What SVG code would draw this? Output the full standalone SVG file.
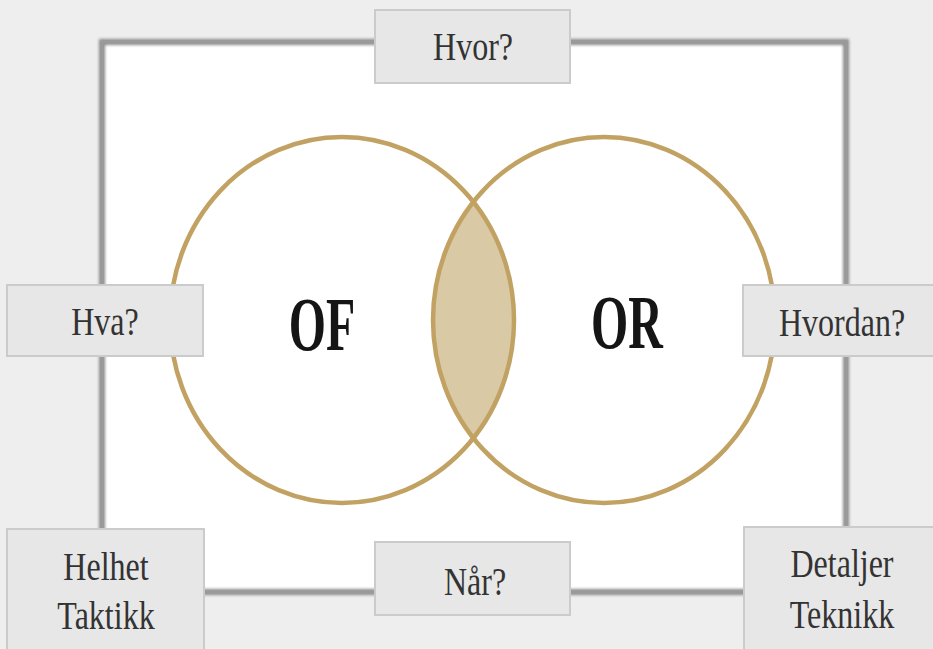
<svg xmlns="http://www.w3.org/2000/svg" width="933" height="649" viewBox="0 0 933 649">
  <style>
    .box { fill: #e7e7e7; stroke: #cbcbcb; stroke-width: 2; }
    .lbl { font-family: "Liberation Serif", "DejaVu Serif", serif; font-size: 40px; fill: #333333; text-anchor: middle; }
    .big { font-family: "Liberation Serif", "DejaVu Serif", serif; font-size: 76px; font-weight: bold; fill: #151515; text-anchor: middle; }
    .ring { fill: none; stroke: #c2a262; stroke-width: 4.5; }
  </style>
  <defs>
    <filter id="blur" x="-5%" y="-5%" width="110%" height="110%">
      <feGaussianBlur stdDeviation="1.6"/>
    </filter>
    <clipPath id="leftClip">
      <ellipse cx="342" cy="320" rx="172" ry="183"/>
    </clipPath>
  </defs>
  <rect x="0" y="0" width="933" height="649" fill="#eeeeee"/>
  <g id="frame">
    <rect x="102" y="42" width="744" height="550" fill="#ffffff"/>
    <rect x="102" y="42" width="744" height="550" fill="none" stroke="#8c8c8c" stroke-width="6" filter="url(#blur)"/>
    <rect x="102" y="42" width="744" height="550" fill="none" stroke="#9a9a9a" stroke-width="3"/>
  </g>
  <g id="venn">
    <g id="intersection">
      <ellipse cx="604" cy="320" rx="171" ry="183" fill="#d9c9a5" clip-path="url(#leftClip)"/>
    </g>
    <g id="OF">
      <ellipse class="ring" cx="342" cy="320" rx="172" ry="183"/>
      <text class="big" transform="translate(322 350) scale(0.63 1)">OF</text>
    </g>
    <g id="OR">
      <ellipse class="ring" cx="604" cy="320" rx="171" ry="183"/>
      <text class="big" transform="translate(627 348) scale(0.63 1)">OR</text>
    </g>
  </g>
  <g id="hvor">
    <rect class="box" x="375" y="10" width="195" height="73"/>
    <text class="lbl" transform="translate(473 60) scale(0.8 1)">Hvor?</text>
  </g>
  <g id="hva">
    <rect class="box" x="7" y="285" width="196" height="71"/>
    <text class="lbl" transform="translate(105 335) scale(0.8 1)">Hva?</text>
  </g>
  <g id="hvordan">
    <rect class="box" x="743" y="285" width="200" height="71"/>
    <text class="lbl" transform="translate(842 336) scale(0.8 1)">Hvordan?</text>
  </g>
  <g id="naar">
    <rect class="box" x="375" y="542" width="195" height="73"/>
    <text class="lbl" transform="translate(475 595) scale(0.8 1)">Når?</text>
  </g>
  <g id="helhet">
    <rect class="box" x="7" y="529" width="197" height="130"/>
    <text class="lbl" transform="translate(106 580) scale(0.8 1)">Helhet</text>
    <text class="lbl" transform="translate(106 629) scale(0.8 1)">Taktikk</text>
  </g>
  <g id="detaljer">
    <rect class="box" x="744" y="527" width="200" height="130"/>
    <text class="lbl" transform="translate(842 577) scale(0.8 1)">Detaljer</text>
    <text class="lbl" transform="translate(842 628) scale(0.8 1)">Teknikk</text>
  </g>
  <g id="connectors"></g>
</svg>
